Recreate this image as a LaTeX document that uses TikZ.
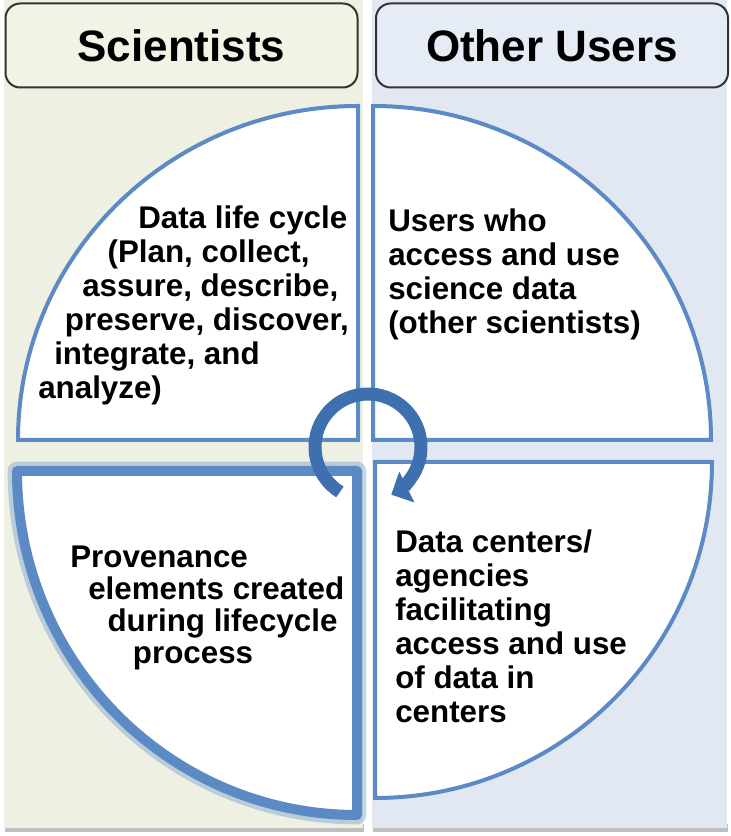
\documentclass[tikz,border=0pt]{standalone}
\usepackage{fontspec}
\setmainfont{Liberation Sans}
\usetikzlibrary{arrows.meta}

\definecolor{sciback}{HTML}{EEF0E3}
\definecolor{scihead}{HTML}{F2F3E6}
\definecolor{usrback}{HTML}{E2E8F2}
\definecolor{usrhead}{HTML}{E6ECF6}
\definecolor{quadline}{HTML}{5B8AC5}
\definecolor{cyclearrow}{HTML}{3E6FAE}

\tikzset{
  headbox/.style={draw=black!80, line width=1.5pt, rounded corners=11pt,
    minimum width=264pt, minimum height=63pt,
    font=\bfseries\fontsize{33}{36}\selectfont},
  quad/.style={draw=quadline, line width=3pt, fill=white},
  quadtext/.style={font=\bfseries\fontsize{23.5}{25.5}\selectfont,
    align=left, inner sep=0pt, anchor=north west}
}

\begin{document}
\begin{tikzpicture}[x=0.75pt,y=0.75pt]
  \useasboundingbox (0,0) rectangle (731,836);

  % column backgrounds with a soft shadow
  \fill[black!25] (5,4) rectangle (364,12);
  \fill[black!25] (373,4) rectangle (728,12);
  \fill[sciback] (4,8) rectangle (363,836);
  \fill[usrback] (372,8) rectangle (727,836);

  % headers
  \node[headbox, fill=scihead] (sci) at (181.5,790.5) {Scientists};
  \node[headbox, fill=usrhead] (usr) at (552,790.5) {Other Users};

  % the four quarters
  \draw[quad] (358,396) -- (18,396)
    arc[start angle=180, end angle=90, x radius=340, y radius=334] -- cycle;
  \draw[quad] (373,396) -- (373,730)
    arc[start angle=90, end angle=0, x radius=338, y radius=334] -- cycle;
  \draw[quad] (375,374) -- (712,374)
    arc[start angle=0, end angle=-90, x radius=337, y radius=336] -- cycle;

  % highlighted quarter
  \draw[quadline, line width=14pt, opacity=0.35, line join=round]
    (357,365) -- (17,365)
    arc[start angle=180, end angle=270, x radius=340, y radius=344] -- cycle;
  \draw[quad, line width=7.5pt, line join=round] (357,365) -- (17,365)
    arc[start angle=180, end angle=270, x radius=340, y radius=344] -- cycle;

  % texts
  \node[quadtext] (cycle) at (38,630) {%
    \hspace*{75pt}Data life cycle\\
    \hspace*{52pt}(Plan, collect,\\
    \hspace*{33pt}assure, describe,\\
    \hspace*{20pt}preserve, discover,\\
    \hspace*{12pt}integrate, and\\
    analyze)};
  \node[quadtext] (users) at (388,627) {%
    Users who\\ access and use\\ science data\\ (other scientists)};
  \node[quadtext, font=\bfseries\fontsize{23.5}{24}\selectfont] (prov) at (70,290) {%
    Provenance\\
    \hspace*{13.5pt}elements created\\
    \hspace*{28pt}during lifecycle\\
    \hspace*{47pt}process};
  \node[quadtext] (centers) at (395,306) {%
    Data centers/\\ agencies\\ facilitating\\ access and use\\ of data in\\ centers};

  % cycle arrow
  \draw[cyclearrow, line width=9.75pt, -{Triangle[length=13pt,width=25pt]}]
    (368,389) ++(238:53)
    arc[start angle=238, end angle=-64, radius=53];
\end{tikzpicture}
\end{document}
